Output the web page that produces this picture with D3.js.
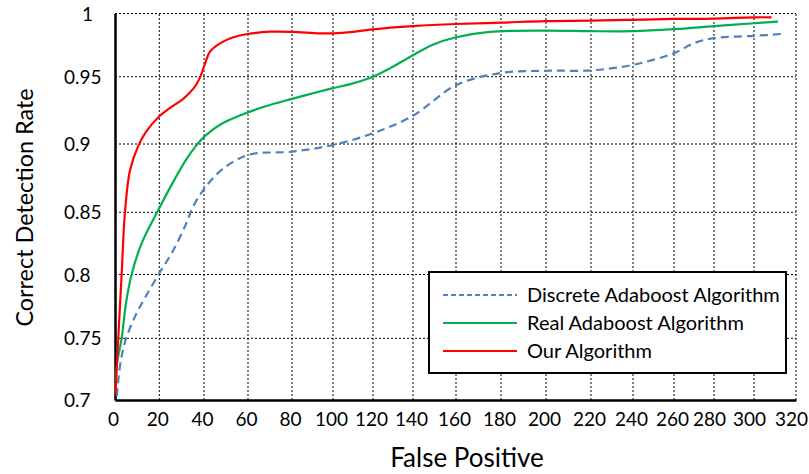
<!DOCTYPE html>
<html><head><meta charset="utf-8">
<script src="https://cdn.jsdelivr.net/npm/d3@7"></script>
<style>
html,body{margin:0;padding:0;background:#fff;}
svg{display:block;font-family:Lato,"Open Sans",sans-serif;}
</style></head>
<body><svg id="c" width="809" height="474"></svg>
<script>
// ---- data ----
const xTicks = [0,20,40,60,80,100,120,140,160,180,200,220,240,260,280,300,320];
const yTicks = [0.7,0.75,0.8,0.85,0.9,0.95,1];
const seriesNames = ["Discrete Adaboost Algorithm","Real Adaboost Algorithm","Our Algorithm"];
const discrete = [[0.8,0.703],[2.3,0.728],[4.5,0.747],[9,0.767],[13.6,0.782],[20,0.801],[25.8,0.818],[31.8,0.84],[35.1,0.854],[40,0.867],[48,0.881],[60,0.892],[80,0.8944],[100,0.8993],[120,0.908],[140,0.921],[160,0.9437],[180,0.9529],[200,0.9547],[220,0.955],[240,0.9594],[260,0.9686],[270,0.9765],[280,0.9805],[300,0.9823],[314.8,0.984]];
const real = [[0.3,0.705],[0.8,0.728],[3,0.75],[5,0.778],[7.5,0.8],[12,0.825],[19,0.85],[25.8,0.871],[31.8,0.888],[36.6,0.899],[40.5,0.906],[48,0.915],[56,0.921],[68,0.928],[80,0.9335],[93.5,0.939],[100,0.9415],[110,0.945],[120,0.95],[128.5,0.9566],[140,0.967],[149.5,0.9755],[160,0.9812],[175,0.9855],[200,0.9865],[220,0.986],[240,0.986],[260,0.9876],[280,0.990],[300,0.9923],[311.4,0.9936]];
const ours = [[0.2,0.705],[1.5,0.751],[3,0.8],[4.5,0.85],[6.8,0.881],[10.6,0.899],[14,0.909],[19.7,0.92],[25,0.927],[30.3,0.933],[33.6,0.938],[36.5,0.944],[38.6,0.951],[40.5,0.9606],[42.7,0.9698],[47.3,0.9764],[53.3,0.9812],[60,0.9838],[70,0.9856],[80,0.9855],[93.5,0.9843],[100,0.9843],[110,0.9855],[120,0.9875],[140,0.990],[160,0.9917],[180,0.9928],[200,0.994],[220,0.9943],[240,0.995],[260,0.9957],[280,0.996],[300,0.997],[308.4,0.997]];

// ---- scales (the source image is slightly unevenly stretched) ----
const x = d3.scaleLinear().domain(xTicks)
  .range([115,159.3,204,248,292,333,373,413,456,501,546,591,633,674,714,754,796]);
const y = d3.scaleLinear().domain(yTicks)
  .range([400,338.3,274.5,212.3,144,76.7,13.5]);

const svg = d3.select("#c");

// grid
const grid = svg.append("g");
grid.selectAll("line.v").data(xTicks.slice(1)).join("line")
  .attr("x1",d=>x(d)).attr("x2",d=>x(d)).attr("y1",y(0.7)).attr("y2",y(1))
  .attr("stroke","#000").attr("stroke-width",1).attr("stroke-dasharray","2,2");
grid.selectAll("line.h").data(yTicks.slice(1)).join("line")
  .attr("x1",x(0)).attr("x2",x(320)).attr("y1",d=>y(d)).attr("y2",d=>y(d))
  .attr("stroke","#000").attr("stroke-width",1).attr("stroke-dasharray","2,2");

// axes
const xAxis = svg.append("g").attr("transform",`translate(0,${y(0.7)})`)
  .call(d3.axisBottom(x).tickValues(xTicks).tickSize(0).tickPadding(13).tickFormat(d3.format("d")));
const yAxis = svg.append("g").attr("transform",`translate(${x(0)},0)`)
  .call(d3.axisLeft(y).tickValues(yTicks).tickSize(0).tickPadding(14).tickFormat(d=>d===1?"1":String(d)));
[xAxis,yAxis].forEach(a=>{
  a.select(".domain").attr("stroke","#000").attr("stroke-width",2.5);
  a.selectAll("text").attr("font-family","Lato, 'Open Sans', sans-serif").attr("font-size",19).attr("fill","#000");
});
xAxis.selectAll("text").attr("dx",d=>d>=280?-5:-2);
yAxis.selectAll("text").attr("text-anchor","start").attr("x",d=>d===1?-33:-51).attr("dy","0.35em");

// lines
const line = d3.line().x(d=>x(d[0])).y(d=>y(d[1])).curve(d3.curveCatmullRom.alpha(0.5));
const styles = [
  {data:discrete,color:"#4F81BD",dash:"8,5"},
  {data:real,color:"#00B050",dash:null},
  {data:ours,color:"#FF0000",dash:null}
];
styles.forEach(s=>{
  svg.append("path").datum(s.data).attr("d",line).attr("fill","none")
    .attr("stroke",s.color).attr("stroke-width",2.2)
    .attr("stroke-dasharray",s.dash);
});

// axis titles
svg.append("text").attr("x",467).attr("y",467).attr("text-anchor","middle")
  .attr("font-size",26).attr("fill","#000").text("False Positive");
svg.append("text").attr("transform","translate(33,207.5) rotate(-90)").attr("text-anchor","middle")
  .attr("font-size",23.4).attr("fill","#000").text("Correct Detection Rate");

// legend
const lg = svg.append("g");
lg.append("rect").attr("x",429).attr("y",272).attr("width",357).attr("height",101)
  .attr("fill","#fff").attr("stroke","#000").attr("stroke-width",2);
const rowsY = [295,323,351];
styles.forEach((s,i)=>{
  lg.append("line").attr("x1",443).attr("x2",517).attr("y1",rowsY[i]).attr("y2",rowsY[i])
    .attr("stroke",s.color).attr("stroke-width",2).attr("stroke-dasharray",s.dash?"5,3":null);
  lg.append("text").attr("x",527).attr("y",rowsY[i]).attr("dy","0.35em")
    .attr("font-size",20).attr("fill","#000").text(seriesNames[i]);
});
</script></body></html>
